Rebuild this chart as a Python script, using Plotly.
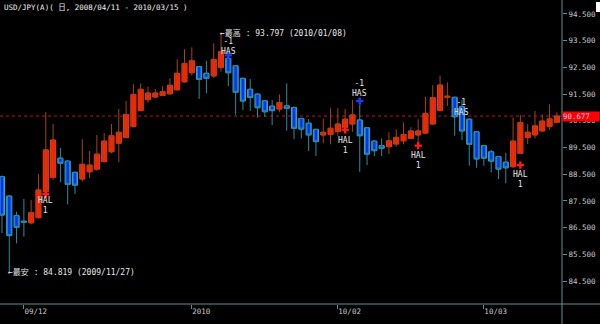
import plotly.graph_objects as go

dates = [
    "2009-11-26", "2009-11-27", "2009-11-30",
    "2009-12-01", "2009-12-02", "2009-12-03", "2009-12-04",
    "2009-12-07", "2009-12-08", "2009-12-09", "2009-12-10", "2009-12-11",
    "2009-12-14", "2009-12-15", "2009-12-16", "2009-12-17", "2009-12-18",
    "2009-12-21", "2009-12-22", "2009-12-23", "2009-12-24", "2009-12-25",
    "2009-12-28", "2009-12-29", "2009-12-30", "2009-12-31",
    "2010-01-04", "2010-01-05", "2010-01-06", "2010-01-07", "2010-01-08",
    "2010-01-11", "2010-01-12", "2010-01-13", "2010-01-14", "2010-01-15",
    "2010-01-18", "2010-01-19", "2010-01-20", "2010-01-21", "2010-01-22",
    "2010-01-25", "2010-01-26", "2010-01-27", "2010-01-28", "2010-01-29",
    "2010-02-01", "2010-02-02", "2010-02-03", "2010-02-04", "2010-02-05",
    "2010-02-08", "2010-02-09", "2010-02-10", "2010-02-11", "2010-02-12",
    "2010-02-15", "2010-02-16", "2010-02-17", "2010-02-18", "2010-02-19",
    "2010-02-22", "2010-02-23", "2010-02-24", "2010-02-25", "2010-02-26",
    "2010-03-01", "2010-03-02", "2010-03-03", "2010-03-04", "2010-03-05",
    "2010-03-08", "2010-03-09", "2010-03-10", "2010-03-11", "2010-03-12",
    "2010-03-15",
]

opens = [88.41, 87.68, 86.95, 86.74, 86.68, 86.87, 87.85, 88.38, 89.10, 88.99,
         88.57, 88.32, 88.59, 88.69, 88.97, 89.34, 89.66, 89.87, 90.28, 90.88,
         91.29, 91.39, 91.45, 91.51, 91.66, 91.96, 92.30, 92.53, 92.28, 92.18,
         92.49, 92.84, 92.56, 92.09, 91.68, 91.50, 91.25, 91.05, 90.94, 91.06,
         91.00, 90.59, 90.41, 90.18, 89.97, 89.99, 90.10, 90.24, 90.38, 90.53,
         90.24, 89.74, 89.57, 89.53, 89.63, 89.75, 89.84, 89.97, 90.04, 90.38,
         90.88, 91.38, 91.38, 91.03, 90.56, 90.09, 89.57, 89.34, 89.16, 88.95,
         88.78, 89.28, 89.87, 89.97, 90.12, 90.28, 90.44]
highs = [88.45, 87.72, 87.10, 87.57, 87.53, 88.51, 90.82, 90.38, 89.49, 89.02,
         88.60, 89.81, 89.37, 89.97, 90.04, 90.38, 90.94, 91.24, 91.87, 91.90,
         91.78, 91.69, 91.80, 92.09, 92.80, 93.18, 93.25, 92.56, 92.75, 93.40,
         93.797, 92.99, 92.58, 92.12, 92.07, 91.52, 91.28, 91.28, 91.49, 91.90,
         91.03, 90.60, 90.57, 90.20, 90.57, 90.97, 90.97, 90.94, 91.28, 91.09,
         90.26, 89.78, 89.84, 90.07, 90.18, 90.44, 90.26, 90.56, 91.40, 91.84,
         92.19, 91.94, 91.40, 91.28, 90.58, 90.11, 89.60, 89.41, 89.18, 89.30,
         90.62, 90.72, 90.38, 90.87, 90.74, 91.12, 90.82]
lows = [86.30, 84.819, 85.91, 86.16, 86.62, 86.85, 87.72, 88.28, 88.20, 87.37,
        87.75, 88.22, 88.35, 88.63, 88.95, 89.28, 88.95, 89.85, 90.26, 90.86,
        91.17, 91.37, 91.43, 91.49, 91.64, 91.93, 92.19, 91.32, 91.53, 92.11,
        92.34, 91.80, 90.72, 90.90, 90.87, 90.62, 90.65, 90.34, 90.82, 90.13,
        89.81, 89.84, 89.37, 89.18, 89.66, 89.62, 89.94, 90.04, 90.09, 88.59,
        88.84, 89.18, 89.18, 89.25, 89.53, 89.62, 89.82, 89.66, 90.00, 90.36,
        90.86, 91.05, 89.94, 89.78, 88.82, 88.74, 88.82, 88.57, 88.32, 88.16,
        88.74, 89.26, 89.63, 89.84, 90.09, 90.16, 90.42]
closes = [86.97, 86.20, 86.51, 86.70, 87.06, 87.91, 89.41, 89.78, 88.91, 88.12,
          88.09, 88.87, 88.84, 89.25, 89.74, 89.94, 90.07, 90.74, 91.49, 91.68,
          91.54, 91.54, 91.59, 91.83, 92.28, 92.65, 92.75, 92.05, 92.09, 92.80,
          93.09, 92.30, 91.57, 91.24, 91.37, 90.99, 90.84, 90.88, 91.18, 90.97,
          90.22, 90.19, 89.97, 89.72, 90.07, 90.22, 90.38, 90.56, 90.72, 89.94,
          89.25, 89.38, 89.47, 89.75, 89.88, 89.99, 90.12, 90.12, 90.78, 91.37,
          91.84, 91.42, 90.65, 90.12, 89.62, 89.07, 89.10, 88.99, 88.69, 88.74,
          89.74, 90.44, 90.07, 90.31, 90.49, 90.57, 90.677]

title_text = "USD/JPY(A)( 日, 2008/04/11 - 2010/03/15 )"
last_price = 90.677
high_label = "←最高 : 93.797 (2010/01/08)"
high_date, high_price = "2010-01-08", 93.797
low_label = "←最安 : 84.819 (2009/11/27)"
low_date, low_price = "2009-11-27", 84.819

y_tick_vals = [84.5, 85.5, 86.5, 87.5, 88.5, 89.5, 90.5, 91.5, 92.5, 93.5, 94.5]
x_tick_dates = ["2009-12-01", "2010-01-04", "2010-02-01", "2010-03-01"]
x_tick_text = ["09/12", "2010", "10/02", "10/03"]

# signal markers
has_dates = ["2010-01-11", "2010-02-04"]
has_arrow_y = [92.95, 91.24]
has_label_dates = ["2010-01-11", "2010-02-04", "2010-02-24"]
has_label_y = [93.30, 91.70, 91.01]
hal_dates = ["2009-12-04", "2010-02-02", "2010-02-16", "2010-03-08"]
hal_arrow_y = [87.75, 90.16, 89.57, 88.84]
hal_label_y = [87.33, 89.57, 89.01, 88.29]

AXIS = "#5f8f8f"
TXT = "#c8c8c8"
FONT = "DejaVu Sans Mono, Noto Sans CJK JP"
FS = 7.5

UP_FILL, UP_EDGE, UP_WICK = "#ff2200", "#ff3a12", "#a8401a"
DN_FILL, DN_EDGE, DN_WICK = "#0a32ff", "#33b4d6", "#2a8ca0"

fig = go.Figure()
# wicks (candlestick with wick colours)
fig.add_trace(go.Candlestick(
    x=dates, open=opens, high=highs, low=lows, close=closes,
    increasing=dict(fillcolor=UP_FILL, line=dict(color=UP_WICK, width=1)),
    decreasing=dict(fillcolor=DN_FILL, line=dict(color=DN_WICK, width=1)),
    whiskerwidth=0, showlegend=False, hoverinfo="skip",
))
# bodies drawn over the candlestick with brighter outlines
up_x = [d for d, o, c in zip(dates, opens, closes) if c >= o]
up_base = [o for o, c in zip(opens, closes) if c >= o]
up_h = [c - o for o, c in zip(opens, closes) if c >= o]
dn_x = [d for d, o, c in zip(dates, opens, closes) if c < o]
dn_base = [c for o, c in zip(opens, closes) if c < o]
dn_h = [o - c for o, c in zip(opens, closes) if c < o]
fig.add_trace(go.Bar(x=up_x, y=up_h, base=up_base, width=0.7,
                     marker=dict(color=UP_FILL, line=dict(color=UP_EDGE, width=1)),
                     showlegend=False, hoverinfo="skip"))
fig.add_trace(go.Bar(x=dn_x, y=dn_h, base=dn_base, width=0.7,
                     marker=dict(color=DN_FILL, line=dict(color=DN_EDGE, width=1)),
                     showlegend=False, hoverinfo="skip"))
fig.add_trace(go.Scatter(
    x=hal_dates, y=hal_arrow_y, mode="markers",
    marker=dict(symbol="cross", size=6, color="#ff1a1a"),
    showlegend=False, hoverinfo="skip",
))
fig.add_trace(go.Scatter(
    x=has_dates, y=has_arrow_y, mode="markers",
    marker=dict(symbol="cross", size=6, color="#1a3cff"),
    showlegend=False, hoverinfo="skip",
))

annotations = []
for d, y in zip(has_label_dates, has_label_y):
    annotations.append(dict(x=d, y=y, xref="x", yref="y", text="-1<br>HAS",
                            showarrow=False, font=dict(family=FONT, size=8, color="#e8e8e8")))
for d, y in zip(hal_dates, hal_label_y):
    annotations.append(dict(x=d, y=y, xref="x", yref="y", text="HAL<br>1",
                            showarrow=False, font=dict(family=FONT, size=8, color="#e8e8e8")))
annotations.append(dict(x=high_date, y=high_price, xref="x", yref="y", text=high_label,
                        showarrow=False, xanchor="left", xshift=-3, yanchor="middle",
                        font=dict(family=FONT, size=8, color="#e8e8e8")))
annotations.append(dict(x=low_date, y=low_price, xref="x", yref="y", text=low_label,
                        showarrow=False, xanchor="left", xshift=-3, yanchor="middle",
                        font=dict(family=FONT, size=8, color="#e8e8e8")))
annotations.append(dict(x=0.003, y=1.0, xref="paper", yref="paper", text=title_text,
                        showarrow=False, xanchor="left", yanchor="top", yshift=-1,
                        font=dict(family=FONT, size=FS, color="#f0f0f0")))
annotations.append(dict(x=1.0, y=last_price, xref="paper", yref="y", text=f"{last_price:.3f}",
                        showarrow=False, xanchor="left", yanchor="middle",
                        bgcolor="#ff0000", width=36, height=9, borderpad=0, align="left",
                        font=dict(family=FONT, size=FS, color="#a8c8ff")))

shapes = [
    dict(type="line", xref="paper", yref="y", x0=0, x1=1, y0=last_price, y1=last_price,
         line=dict(color="#c81010", width=1, dash="dot"), layer="below"),
    dict(type="line", xref="paper", yref="paper", x0=0, x1=600 / 562, y0=0, y1=0,
         line=dict(color=AXIS, width=1)),
    dict(type="line", xref="paper", yref="paper", x0=1, x1=1, y0=-20 / 304, y1=1,
         line=dict(color=AXIS, width=1)),
    dict(type="rect", xref="paper", yref="paper", x0=596 / 562, x1=600 / 562,
         y0=1 - 12 / 304, y1=1 - 2 / 304, fillcolor="#ffffff", line=dict(width=0)),
]

fig.update_layout(
    width=600, height=324,
    margin=dict(l=0, r=38, t=0, b=20),
    paper_bgcolor="#000000", plot_bgcolor="#000000",
    barmode="overlay", bargap=0.3,
    annotations=annotations, shapes=shapes,
    xaxis=dict(type="category", range=[-0.27, 76.7], rangeslider=dict(visible=False),
               showgrid=False, zeroline=False, showline=False,
               tickmode="array", tickvals=x_tick_dates, ticktext=x_tick_text,
               ticks="outside", ticklen=4, tickcolor=AXIS, ticklabelposition="outside right",
               tickfont=dict(family=FONT, size=FS, color=TXT)),
    yaxis=dict(side="right", range=[83.639, 95.024], showgrid=False, zeroline=False,
               showline=False, tickmode="array", tickvals=y_tick_vals,
               ticktext=[f"{v:.3f}" for v in y_tick_vals],
               ticks="outside", ticklen=4, tickcolor=AXIS,
               tickfont=dict(family=FONT, size=FS, color=TXT)),
)

fig.write_html("out.html")
